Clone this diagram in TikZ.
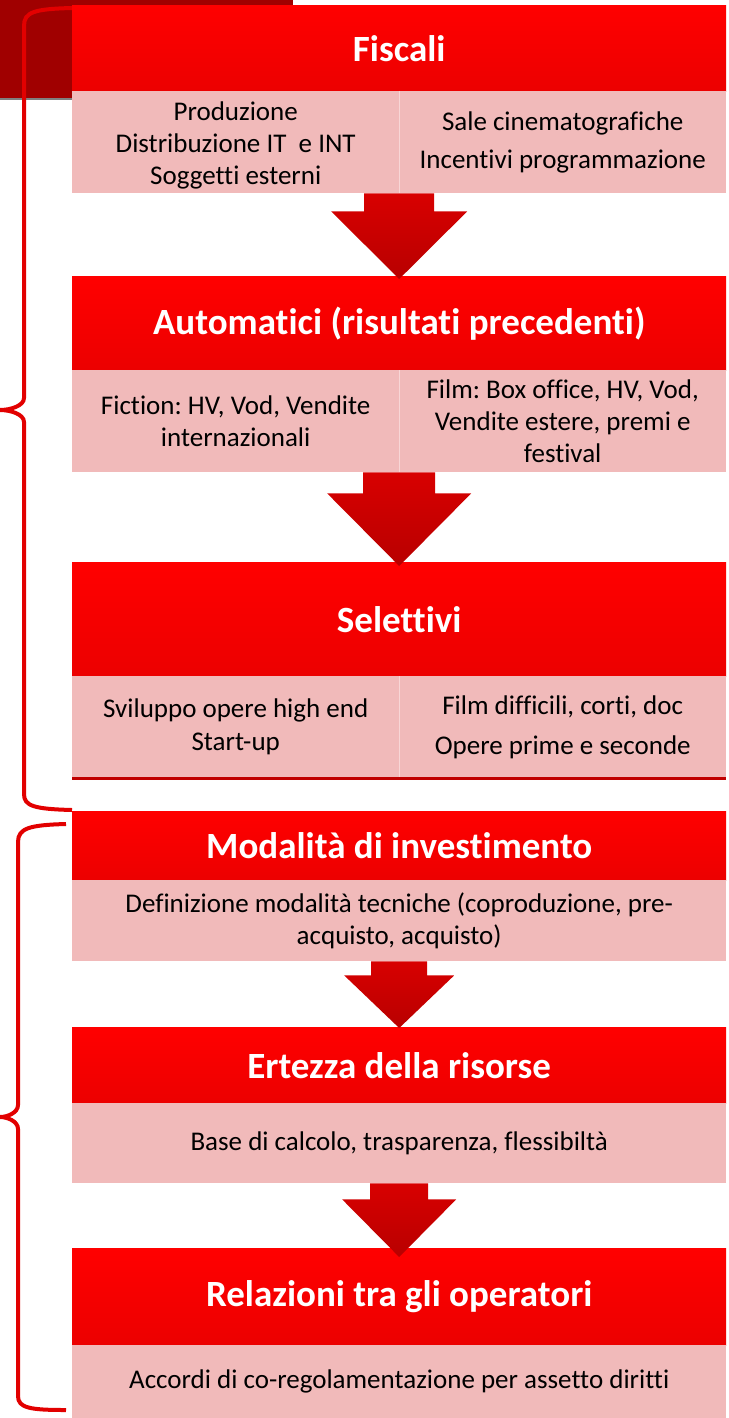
\documentclass[tikz,border=0pt]{standalone}
\usepackage{fontspec}
\setmainfont{Carlito}[Ligatures=NoCommon]
\usetikzlibrary{calc}
\frenchspacing

\definecolor{hdtop}{RGB}{255,0,0}
\definecolor{hdbot}{RGB}{236,0,0}
\definecolor{cellpink}{RGB}{241,186,186}
\definecolor{arrtop}{RGB}{216,0,0}
\definecolor{arrbot}{RGB}{184,0,0}
\definecolor{bracered}{RGB}{226,0,0}
\definecolor{cornerred}{RGB}{160,0,0}
\definecolor{edgered}{RGB}{192,0,0}
\definecolor{divpink}{RGB}{248,214,214}

\tikzset{
  head/.style={anchor=north west, inner sep=0pt, minimum width=654pt,
    top color=hdtop, bottom color=hdbot, text=white,
    font=\fontsize{37}{41}\selectfont\bfseries},
  cell/.style={anchor=north west, inner sep=0pt, fill=cellpink, align=center,
    font=\fontsize{27}{32}\selectfont},
  halfcell/.style={cell, minimum width=327pt},
  fullcell/.style={cell, minimum width=654pt},
  brace/.style={draw=bracered, line width=4pt},
  bigarrow/.style={top color=arrtop, bottom color=arrbot},
  divider/.style={draw=divpink, line width=1.5pt}
}

\begin{document}
\begin{tikzpicture}[x=1pt,y=-1pt]
\useasboundingbox (0,0) rectangle (728,1418);
% corner block
\fill[cornerred] (0,0) rectangle (293,98);
\draw[gray, line width=1.5pt] (0,99) -- (293,99);
% braces
\draw[brace] (72,8) .. controls (34,9) and (24,12) .. (24,26) -- (24,398)
  .. controls (24,406) and (10,410) .. (0,410)
  .. controls (10,410) and (24,414) .. (24,422) -- (24,794)
  .. controls (24,806) and (34,809) .. (72,810);
\draw[brace] (66,824) .. controls (30,825) and (18,828) .. (18,842) -- (18,1105)
  .. controls (18,1113) and (7,1117) .. (0,1117)
  .. controls (7,1117) and (18,1121) .. (18,1129) -- (18,1396)
  .. controls (18,1408) and (30,1410) .. (66,1410);

% Fiscali
\node[head, minimum height=86pt] (h1) at (72,5) {Fiscali};
\node[halfcell, minimum height=102pt] (b1l) at (72,91) {\rule{0pt}{26pt}Produzione\\Distribuzione IT~ e INT\\Soggetti esterni};
\node[halfcell, minimum height=102pt] (b1r) at (399,91) {Sale cinematografiche\\[6pt]Incentivi programmazione};
\draw[divider] (b1l.north east) -- (b1l.south east);

% Automatici
\node[head, minimum height=94pt] (h2) at (72,276) {Automatici (risultati precedenti)};
\node[halfcell, minimum height=102pt] (b2l) at (72,370) {Fiction: HV, Vod, Vendite\\internazionali};
\node[halfcell, minimum height=102pt] (b2r) at (399,370) {Film: Box office, HV, Vod,\\Vendite estere, premi e\\festival};
\draw[divider] (b2l.north east) -- (b2l.south east);

% Selettivi
\node[head, minimum height=114pt] (h3) at (72,562) {Selettivi};
\node[halfcell, minimum height=102pt] (b3l) at (72,676) {Sviluppo opere high end\\[1pt]Start-up};
\node[halfcell, minimum height=102pt] (b3r) at (399,676) {Film difficili, corti, doc\\[8pt]Opere prime e seconde};
\draw[divider] (b3l.north east) -- (b3l.south east);
\draw[edgered, line width=3pt] (b3l.south west) -- (b3r.south east);

% Modalita
\node[head, minimum height=69pt] (h4) at (72,811) {Modalità di investimento};
\node[fullcell, minimum height=81pt] (b4) at (72,880) {Definizione modalità tecniche (coproduzione, pre-\\acquisto, acquisto)};

% Ertezza
\node[head, minimum height=76pt] (h5) at (72,1027) {Ertezza della risorse};
\node[fullcell, minimum height=80pt] (b5) at (72,1103) {Base di calcolo, trasparenza, flessibiltà};

% Relazioni
\node[head, minimum height=97pt] (h6) at (72,1248) {Relazioni tra gli operatori};
\node[fullcell, minimum height=73pt] (b6) at (72,1345) {Accordi di co-regolamentazione per assetto diritti};

% arrows
\shade[bigarrow] let \p1=(b1l.south), \p2=(h2.north) in
  (\x2-35pt,\y1) -- (\x2+35pt,\y1) -- (\x2+35pt,\y1-18pt) -- (\x2+68pt,\y1-18pt)
  -- (\x2,\y2-3pt) -- (\x2-68pt,\y1-18pt) -- (\x2-35pt,\y1-18pt) -- cycle;
\shade[bigarrow] let \p1=(b2l.south), \p2=(h3.north) in
  (\x2-36pt,\y1) -- (\x2+36pt,\y1) -- (\x2+36pt,\y1-21pt) -- (\x2+72pt,\y1-21pt)
  -- (\x2,\y2-4pt) -- (\x2-72pt,\y1-21pt) -- (\x2-36pt,\y1-21pt) -- cycle;
\shade[bigarrow] let \p1=(b4.south), \p2=(h5.north) in
  (\x2-28pt,\y1) -- (\x2+28pt,\y1) -- (\x2+28pt,\y1-14pt) -- (\x2+55pt,\y1-14pt)
  -- (\x2,\y2-1pt) -- (\x2-55pt,\y1-14pt) -- (\x2-28pt,\y1-14pt) -- cycle;
\shade[bigarrow] let \p1=(b5.south), \p2=(h6.north) in
  (\x2-29pt,\y1) -- (\x2+29pt,\y1) -- (\x2+29pt,\y1-16pt) -- (\x2+57pt,\y1-16pt)
  -- (\x2,\y2-9pt) -- (\x2-57pt,\y1-16pt) -- (\x2-29pt,\y1-16pt) -- cycle;
\end{tikzpicture}
\end{document}
